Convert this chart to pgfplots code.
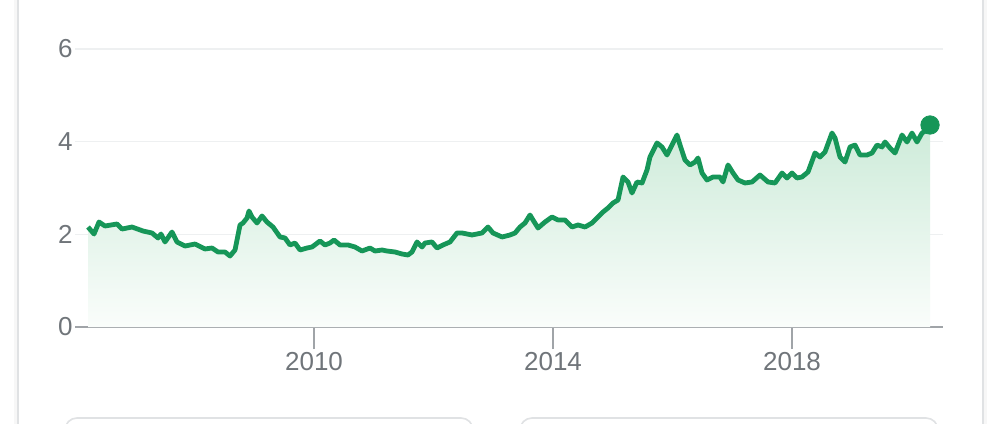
\documentclass[border=0pt]{standalone}
\usepackage{pgfplots}
\usepackage{pgfplotstable}
\pgfplotsset{compat=1.18}
\usepackage{fontspec}
\setmainfont{Liberation Sans}
\definecolor{lineg}{RGB}{22,150,88}
\definecolor{filltop}{RGB}{205,235,217}
\definecolor{fillbot}{RGB}{250,253,251}
\definecolor{ticktext}{RGB}{112,117,122}
\definecolor{axisgray}{RGB}{160,164,168}
\definecolor{gridgray}{RGB}{238,240,241}
\definecolor{cardgray}{RGB}{224,226,228}

\pgfplotstableread{
year value
2006.218 2.158
2006.318 2.007
2006.402 2.266
2006.502 2.180
2006.703 2.223
2006.787 2.115
2006.954 2.158
2007.138 2.072
2007.289 2.029
2007.389 1.921
2007.439 2.007
2007.506 1.835
2007.623 2.050
2007.707 1.835
2007.841 1.748
2008.008 1.791
2008.176 1.684
2008.293 1.705
2008.393 1.619
2008.510 1.619
2008.594 1.532
2008.678 1.662
2008.762 2.202
2008.812 2.245
2008.879 2.353
2008.912 2.504
2008.962 2.374
2009.046 2.245
2009.130 2.396
2009.213 2.266
2009.314 2.158
2009.431 1.943
2009.515 1.921
2009.598 1.770
2009.682 1.813
2009.766 1.662
2009.883 1.705
2009.967 1.727
2010.100 1.856
2010.184 1.770
2010.268 1.813
2010.335 1.878
2010.435 1.770
2010.569 1.770
2010.686 1.727
2010.803 1.640
2010.937 1.705
2011.021 1.640
2011.138 1.662
2011.222 1.640
2011.356 1.619
2011.473 1.576
2011.573 1.554
2011.640 1.619
2011.724 1.835
2011.808 1.727
2011.858 1.813
2011.975 1.835
2012.059 1.705
2012.159 1.770
2012.276 1.835
2012.393 2.029
2012.477 2.029
2012.644 1.986
2012.812 2.029
2012.912 2.158
2012.996 2.029
2013.146 1.943
2013.280 1.986
2013.364 2.029
2013.448 2.158
2013.531 2.245
2013.615 2.417
2013.665 2.310
2013.749 2.137
2013.866 2.266
2013.983 2.374
2014.084 2.310
2014.201 2.310
2014.318 2.158
2014.418 2.202
2014.536 2.158
2014.653 2.245
2014.753 2.374
2014.837 2.482
2014.921 2.569
2015.004 2.676
2015.088 2.741
2015.172 3.238
2015.255 3.130
2015.322 2.892
2015.406 3.130
2015.490 3.108
2015.573 3.389
2015.623 3.669
2015.741 3.972
2015.824 3.885
2015.908 3.712
2015.992 3.928
2016.075 4.144
2016.126 3.928
2016.209 3.605
2016.293 3.497
2016.377 3.561
2016.427 3.648
2016.494 3.324
2016.577 3.173
2016.678 3.238
2016.795 3.238
2016.845 3.130
2016.929 3.497
2017.013 3.324
2017.096 3.173
2017.213 3.108
2017.331 3.130
2017.464 3.281
2017.598 3.130
2017.715 3.108
2017.833 3.324
2017.916 3.216
2018.000 3.324
2018.084 3.216
2018.167 3.238
2018.268 3.346
2018.385 3.756
2018.469 3.669
2018.552 3.777
2018.669 4.187
2018.720 4.079
2018.803 3.669
2018.887 3.561
2018.971 3.885
2019.054 3.928
2019.138 3.712
2019.255 3.712
2019.339 3.756
2019.423 3.928
2019.506 3.885
2019.556 3.993
2019.640 3.864
2019.724 3.756
2019.841 4.144
2019.925 3.993
2020.008 4.187
2020.092 3.993
2020.176 4.187
2020.259 4.252
2020.310 4.360
}\pricedata

\begin{document}
\begin{tikzpicture}
\path[use as bounding box] (0,0) rectangle (500pt,211.5pt);
\clip (0,0) rectangle (500pt,211.5pt);
\fill[white] (0,0) rectangle (500pt,211.5pt);
% card edges with soft shadow
\fill[gray!6] (7pt,-5pt) rectangle (9pt,220pt);
\draw[cardgray, line width=0.8pt] (9pt,-5pt) -- (9pt,220pt);
\fill[gray!6] (491.5pt,-5pt) rectangle (493.5pt,220pt);
\draw[cardgray, line width=0.8pt] (491.5pt,-5pt) -- (491.5pt,220pt);
% buttons at bottom
\draw[cardgray, line width=0.8pt, rounded corners=6pt] (32.5pt,-15pt) rectangle (236.5pt,2.5pt);
\draw[cardgray, line width=0.8pt, rounded corners=6pt] (260pt,-15pt) rectangle (469pt,2.5pt);
\begin{axis}[
  at={(37.5pt,48pt)}, anchor=south west,
  scale only axis, width=434pt, height=139pt,
  xmin=2006.0, xmax=2020.527, ymin=0, ymax=6,
  axis x line*=bottom, axis y line*=left,
  y axis line style={draw=none},
  x axis line style={axisgray, line width=0.8pt, -},
  xtick={2010,2014,2018}, xticklabels={2010,2014,2018},
  ytick={0,2,4,6}, yticklabels={0,2,4,6},
  tick align=outside, major tick length=11pt,
  xtick style={axisgray, line width=0.8pt},
  ytick style={draw=none},
  ymajorgrids, major grid style={gridgray, line width=0.6pt},
  ticklabel style={font=\fontsize{13}{15}\selectfont, text=ticktext},
  xticklabel style={inner sep=0pt, yshift=-1.5pt},
  yticklabel style={inner sep=0pt, xshift=10pt},
  clip=false,
]
\addplot[draw=none, top color=filltop, bottom color=fillbot] table[x=year, y=value] {\pricedata} \closedcycle;
\addplot[lineg, line width=2.4pt, line join=round] table[x=year, y=value] {\pricedata};
\addplot[only marks, mark=*, mark size=4.6pt, color=lineg] coordinates {(2020.310,4.360)};
\end{axis}
\end{tikzpicture}
\end{document}
